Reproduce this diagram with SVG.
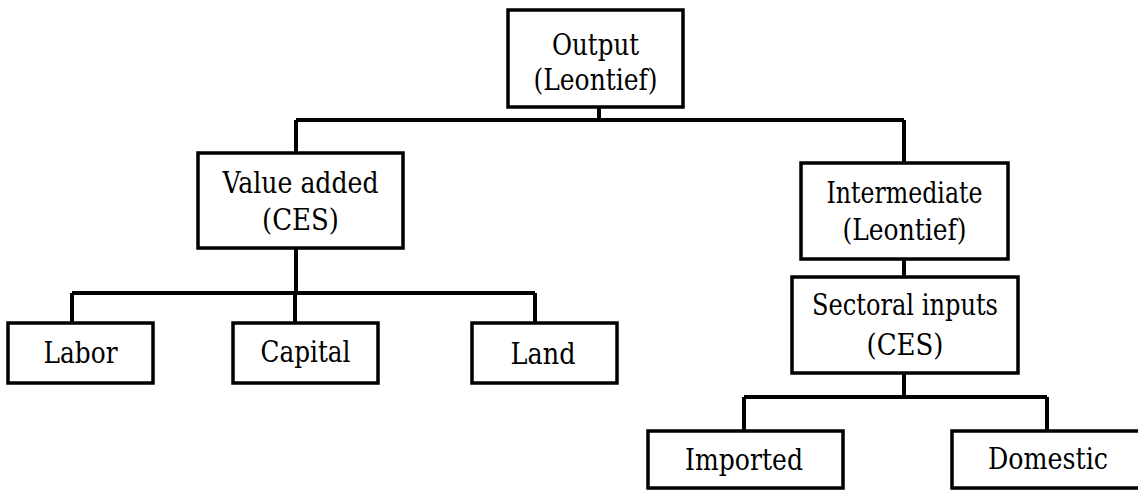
<svg xmlns="http://www.w3.org/2000/svg" width="1138" height="491" viewBox="0 0 1138 491">
<style>
.box{fill:#fff;stroke:#000;stroke-width:3.5}
.ln{fill:none;stroke:#000;stroke-width:4}
.t{font-size:30px;fill:#000;text-anchor:middle}
</style>
<rect width="1138" height="491" fill="#fff"/>
<g id="connectors">
<path class="ln" d="M599,107 V120 M296,120 H904 M296,120 V153 M904,120 V163"/>
<path class="ln" d="M296,248 V293 M72,293 H535 M72,293 V323 M295,293 V323 M535,293 V323"/>
<path class="ln" d="M904,259 V277 M904,373 V397 M744,397 H1047 M744,397 V431 M1047,397 V431"/>
</g>
<g class="t" font-family="'DejaVu Serif', serif">
<g id="output"><rect class="box" x="508" y="10" width="175" height="97"/><text x="595.5" y="55" textLength="87" lengthAdjust="spacingAndGlyphs">Output</text><text x="595.5" y="90" textLength="124" lengthAdjust="spacingAndGlyphs">(Leontief)</text></g>
<g id="value-added"><rect class="box" x="198" y="153" width="205" height="95"/><text x="300.5" y="193" textLength="156" lengthAdjust="spacingAndGlyphs">Value added</text><text x="300.5" y="230" textLength="77" lengthAdjust="spacingAndGlyphs">(CES)</text></g>
<g id="intermediate"><rect class="box" x="801" y="163" width="207" height="96"/><text x="904.5" y="203" textLength="156" lengthAdjust="spacingAndGlyphs">Intermediate</text><text x="904.5" y="240" textLength="124" lengthAdjust="spacingAndGlyphs">(Leontief)</text></g>
<g id="sectoral"><rect class="box" x="792" y="277" width="226" height="96"/><text x="905" y="315" textLength="186" lengthAdjust="spacingAndGlyphs">Sectoral inputs</text><text x="905" y="355" textLength="77" lengthAdjust="spacingAndGlyphs">(CES)</text></g>
<g id="labor"><rect class="box" x="8" y="323" width="145" height="60"/><text x="80.5" y="363" textLength="74" lengthAdjust="spacingAndGlyphs">Labor</text></g>
<g id="capital"><rect class="box" x="233" y="323" width="145" height="60"/><text x="305.5" y="362" textLength="90" lengthAdjust="spacingAndGlyphs">Capital</text></g>
<g id="land"><rect class="box" x="472" y="323" width="145" height="60"/><text x="543" y="364" textLength="65" lengthAdjust="spacingAndGlyphs">Land</text></g>
<g id="imported"><rect class="box" x="648" y="431" width="195" height="57"/><text x="744" y="470" textLength="118" lengthAdjust="spacingAndGlyphs">Imported</text></g>
<g id="domestic"><rect class="box" x="952" y="431" width="200" height="57"/><text x="1048" y="469" textLength="120" lengthAdjust="spacingAndGlyphs">Domestic</text></g>
</g>
</svg>
